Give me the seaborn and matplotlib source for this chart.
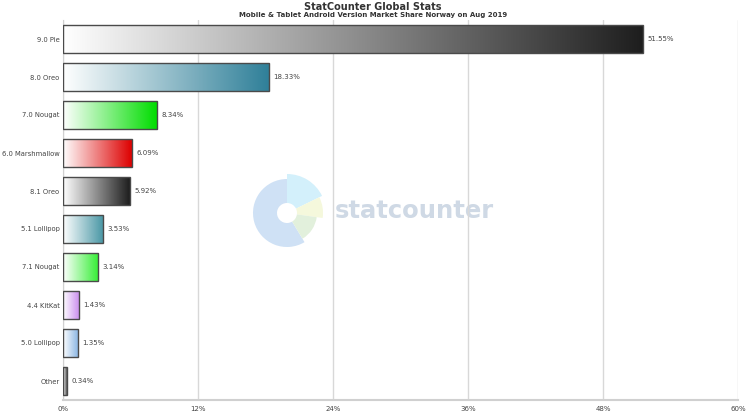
import numpy as np
import matplotlib
matplotlib.use("Agg")
import matplotlib.pyplot as plt
import seaborn as sns
from matplotlib.colors import LinearSegmentedColormap
from matplotlib.patches import Wedge

# datos
versiones = ["9.0 Pie", "8.0 Oreo", "7.0 Nougat", "6.0 Marshmallow", "8.1 Oreo",
             "5.1 Lollipop", "7.1 Nougat", "4.4 KitKat", "5.0 Lollipop", "Other"]
cuota = [51.55, 18.33, 8.34, 6.09, 5.92, 3.53, 3.14, 1.43, 1.35, 0.34]
colores = ["#1e1e1e", "#2e7f98", "#00dd00", "#dd0000", "#1e1e1e",
           "#4b98a6", "#33ee33", "#c98aee", "#86b3e2", "#555555"]
ticks = [0, 12, 24, 36, 48, 60]

sns.set_style("white")
plt.rcParams['font.family'] = ['DejaVu Sans']

fig = plt.figure(figsize=(7.46, 4.2), dpi=100)

# marca de agua (detrás)
wax = fig.add_axes([0, 0, 1, 1], zorder=0)
wax.set_xlim(0, 746)
wax.set_ylim(0, 420)
wax.axis("off")
cx, cy = 287, 420 - 213
wax.add_patch(Wedge((cx, cy), 34, 90, 301, width=24, color="#cfe1f5", lw=0))
wax.add_patch(Wedge((cx, cy), 39, 26, 90, width=29, color="#d3f0fb", lw=0))
wax.add_patch(Wedge((cx, cy), 36, -8, 26, width=26, color="#f5f8dc", lw=0))
wax.add_patch(Wedge((cx, cy), 30, -59, -8, width=20, color="#e2f0dc", lw=0))
wax.text(335, 420 - 211, "statcounter", fontsize=17.5, color="#cfd9e5", va="center",
         ha="left", fontweight="bold")

ax = fig.add_axes([63 / 746, 20 / 420, 675 / 746, 380 / 420], zorder=1)
ax.patch.set_alpha(0)

sns.barplot(x=cuota, y=versiones, orient="h", ax=ax, color="white",
            edgecolor="#4a4a4a", linewidth=1, width=0.76, zorder=3)

# degradado dentro de cada barra
for p, c in zip(ax.patches, colores):
    p.set_facecolor("none")
    x0, y0 = p.get_x(), p.get_y()
    w, h = p.get_width(), p.get_height()
    cmap = LinearSegmentedColormap.from_list("g", ["white", c])
    grad = np.linspace(0, 1, 256).reshape(1, -1)
    im = ax.imshow(grad, cmap=cmap, aspect="auto", extent=[x0, x0 + w, y0 + h, y0],
                   zorder=2.5, interpolation="bilinear")
    im.set_clip_path(p)

for p, v in zip(ax.patches, cuota):
    ax.text(p.get_width() + 0.4, p.get_y() + p.get_height() / 2, f"{v:.2f}%",
            va="center", ha="left", fontsize=5, color="#444444", zorder=4)

ax.set_xlim(0, 60)
ax.set_ylim(9.5, -0.5)
ax.set_aspect("auto")
ax.set_xticks(ticks)
ax.set_xticklabels([f"{t}%" for t in ticks], fontsize=5, color="#444444")
ax.tick_params(axis="y", labelsize=4.9, colors="#444444", length=0, pad=2.5)
ax.tick_params(axis="x", length=0, pad=4)
ax.grid(axis="x", color="#d8d8d8", linewidth=1, zorder=0)
for s in ["top", "right"]:
    ax.spines[s].set_visible(False)
ax.spines["left"].set_color("#d0d0d0")
ax.spines["bottom"].set_color("#d0d0d0")
ax.spines["bottom"].set_linewidth(1.5)
ax.set_xlabel("")
ax.set_ylabel("")

fig.text(0.5, 0.995, "StatCounter Global Stats", ha="center", va="top",
         fontsize=7, fontweight="bold", color="#333333")
fig.text(0.5, 0.972, "Mobile & Tablet Android Version Market Share Norway on Aug 2019",
         ha="center", va="top", fontsize=5, fontweight="bold", color="#333333")

fig.savefig("out.png", dpi=100)
